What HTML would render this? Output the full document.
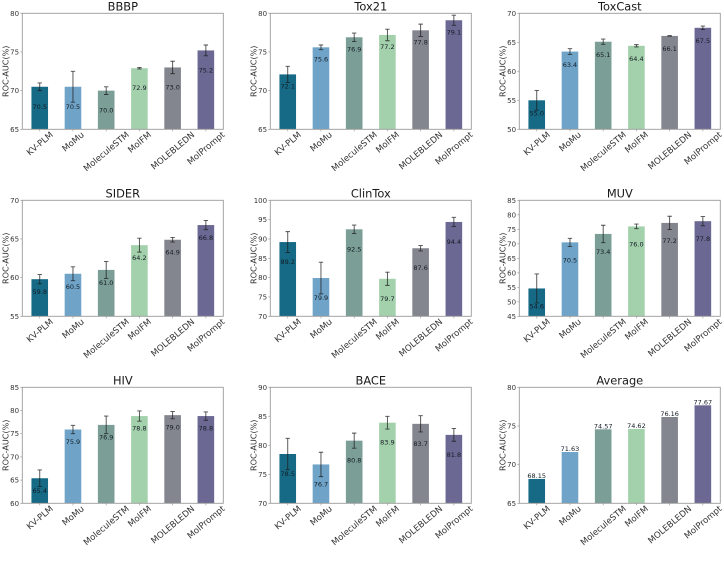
<!DOCTYPE html>
<html lang="en">
<head>
<meta charset="utf-8">
<title>ROC-AUC comparison</title>
<style>
html,body{margin:0;padding:0;background:#fff;width:724px;height:561px;overflow:hidden}
svg{display:block;filter:blur(0.35px)}
text{font-family:"DejaVu Sans","Liberation Sans",sans-serif}
</style>
</head>
<body>
<svg id="figure" xmlns="http://www.w3.org/2000/svg" width="724" height="561" viewBox="0 0 724 561"></svg>
<script>
const categories = ["KV-PLM","MoMu","MoleculeSTM","MolFM","MOLEBLEDN","MolPrompt"];

const bbbpValues = [70.5,70.5,70.0,72.9,73.0,75.2];
const bbbpErrors = [0.5,2.0,0.5,0.1,0.8,0.7];
const bbbpTicks = [65,70,75,80];

const tox21Values = [72.1,75.6,76.9,77.2,77.8,79.1];
const tox21Errors = [1.05,0.3,0.55,0.75,0.8,0.65];
const tox21Ticks = [65,70,75,80];

const toxcastValues = [55.0,63.4,65.1,64.4,66.1,67.5];
const toxcastErrors = [1.7,0.5,0.45,0.2,0.05,0.3];
const toxcastTicks = [50,55,60,65,70];

const siderValues = [59.8,60.5,61.0,64.2,64.9,66.8];
const siderErrors = [0.6,0.9,1.1,0.9,0.3,0.6];
const siderTicks = [55,60,65,70];

const clintoxValues = [89.2,79.9,92.5,79.7,87.6,94.4];
const clintoxErrors = [2.7,4.1,1.1,1.7,0.7,1.2];
const clintoxTicks = [70,75,80,85,90,95,100];

const muvValues = [54.6,70.5,73.4,76.0,77.2,77.8];
const muvErrors = [5.0,1.4,3.0,0.8,2.3,1.6];
const muvTicks = [45,50,55,60,65,70,75,80,85];

const hivValues = [65.4,75.9,76.9,78.8,79.0,78.8];
const hivErrors = [1.8,0.9,1.9,1.1,0.8,0.9];
const hivTicks = [60,65,70,75,80,85];

const baceValues = [78.5,76.7,80.8,83.9,83.7,81.8];
const baceErrors = [2.7,2.1,1.3,1.1,1.4,1.1];
const baceTicks = [70,75,80,85,90];

const averageValues = [68.15,71.63,74.57,74.62,76.16,77.67];
const averageErrors = null;
const averageTicks = [65,70,75,80];

const barColors = ["#166a85","#6fa4c8","#7b9e97","#a3d1ac","#84868f","#6b6893"];

const panels = [
  {title:"BBBP",    key:"bbbp",    values:bbbpValues,    errors:bbbpErrors,    ticks:bbbpTicks,    col:0,row:0,drop:19.7},
  {title:"Tox21",   key:"tox21",   values:tox21Values,   errors:tox21Errors,   ticks:tox21Ticks,   col:1,row:0,drop:11.7},
  {title:"ToxCast", key:"toxcast", values:toxcastValues, errors:toxcastErrors, ticks:toxcastTicks, col:2,row:0,drop:13},
  {title:"SIDER",   key:"sider",   values:siderValues,   errors:siderErrors,   ticks:siderTicks,   col:0,row:1,drop:12.7},
  {title:"ClinTox", key:"clintox", values:clintoxValues, errors:clintoxErrors, ticks:clintoxTicks, col:1,row:1,drop:19.7},
  {title:"MUV",     key:"muv",     values:muvValues,     errors:muvErrors,     ticks:muvTicks,     col:2,row:1,drop:17.7},
  {title:"HIV",     key:"hiv",     values:hivValues,     errors:hivErrors,     ticks:hivTicks,     col:0,row:2,drop:12.3},
  {title:"BACE",    key:"bace",    values:baceValues,    errors:baceErrors,    ticks:baceTicks,    col:1,row:2,drop:19.7},
  {title:"Average", key:"average", values:averageValues, errors:averageErrors, ticks:averageTicks, col:2,row:2,drop:null}
];

const NS = "http://www.w3.org/2000/svg";
const svg = document.getElementById("figure");
const axisWidth = 201;
const axisHeight = 116;
const spineColor = "#9a9a9a";
const textColor = "#333";

function make(tag, parent, props, content) {
  const el = document.createElementNS(NS, tag);
  for (const k in props) el.setAttribute(k, props[k]);
  if (content !== undefined) el.textContent = content;
  parent.appendChild(el);
  return el;
}
function panelLeft(col) { return [22.3, 270.3, 519.3][col]; }
function panelTop(row) { return [13.3, 200.3, 387.3][row]; }

panels.forEach(function (p) {
  const left = panelLeft(p.col);
  const top = panelTop(p.row);
  const bottom = top + axisHeight;
  const yMin = p.ticks[0];
  const yMax = p.ticks[p.ticks.length - 1];
  const unit = axisWidth / 6.05;
  const xScale = function (i) { return left + (i + 0.525) * unit; };
  const yScale = function (v) { return bottom - (v - yMin) / (yMax - yMin) * axisHeight; };

  const g = make("g", svg, {});
  
  

  const title = make("text", g, {x: left + axisWidth / 2, y: top - 2.6, "text-anchor": "middle", "font-size": 11.4, fill: "#1a1a1a"}, p.title);
  
  

  const ylabel = make("text", g, {
    x: 0, y: 0, "text-anchor": "middle", "font-size": 8.1, fill: textColor,
    transform: "translate(" + (left - 14) + "," + (top + axisHeight / 2) + ") rotate(-90)"
  }, "ROC-AUC(%)");
  
  

  p.values.forEach(function (v, i) {
    const cx = xScale(i);
    const barW = unit * 0.5;
    const bar = make("rect", g, {x: cx - barW / 2, y: yScale(v), width: barW, height: bottom - yScale(v), fill: barColors[i]});
    
    
  });

  const frame = make("rect", g, {x: left, y: top, width: axisWidth, height: axisHeight, fill: "none", stroke: spineColor, "stroke-width": 0.9});
  
  

  p.ticks.forEach(function (t) {
    const y = yScale(t);
    const mark = make("line", g, {x1: left - 2, x2: left, y1: y, y2: y, stroke: spineColor, "stroke-width": 0.7});
    
    
    const lab = make("text", g, {x: left - 3.2, y: y + 2.5, "text-anchor": "end", "font-size": 7, fill: textColor}, String(t));
    
    
  });

  categories.forEach(function (c, i) {
    const cx = xScale(i);
    const mark = make("line", g, {x1: cx, x2: cx, y1: bottom, y2: bottom + 2, stroke: spineColor, "stroke-width": 0.7});
    
    
    const lab = make("text", g, {x: 0, y: 0, "text-anchor": "middle", "font-size": 8.6, fill: textColor}, c);
    
    
    const L = lab.getComputedTextLength();
    const boxH = L * Math.sin(40 * Math.PI / 180) + 3;
    const cy = bottom + 2.5 + boxH / 2;
    lab.setAttribute("transform", "translate(" + cx + "," + cy + ") rotate(-40) translate(0,3)");
  });

  p.values.forEach(function (v, i) {
    const cx = xScale(i);
    if (p.errors) {
      const e = p.errors[i];
      const yTop = yScale(v + e);
      const yLow = yScale(v - e);
      const err = make("path", g, {
        d: "M" + cx + " " + yLow + "V" + yTop +
           "M" + (cx - 2.2) + " " + yTop + "H" + (cx + 2.2) +
           "M" + (cx - 2.2) + " " + yLow + "H" + (cx + 2.2),
        stroke: "#1c1c1c", "stroke-opacity": 0.8, "stroke-width": 0.9, fill: "none"
      });
      
      
    }
    const labelY = p.drop === null ? yScale(v) - 1 : yScale(v) + p.drop + 2.3;
    const txt = p.drop === null ? v.toFixed(2) : v.toFixed(1);
    const lab = make("text", g, {x: cx, y: labelY, "text-anchor": "middle", "font-size": 6.5, fill: "#141b24"}, txt);
    
    
  });
});
</script>
</body>
</html>
